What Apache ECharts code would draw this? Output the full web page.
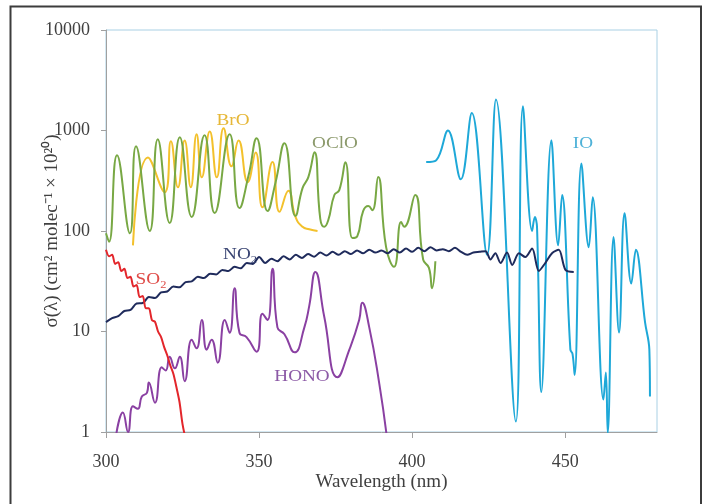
<!DOCTYPE html>
<html>
<head>
<meta charset="utf-8">
<script src="https://cdn.jsdelivr.net/npm/echarts@6/dist/echarts.min.js"></script>
<style>
  html, body { margin: 0; padding: 0; background: #fff; }
  #chart { width: 705px; height: 504px; }
</style>
</head>
<body>
<div id="chart"></div>
<script>
// absorption cross sections
// wavelength in nm, value in cm2 molec-1 x 1e20
const ocloWl = [300.0, 301.0, 303.6, 307.8, 309.8, 314.3, 316.9, 320.8, 324.1, 328.0, 332.2, 335.5, 340.4, 343.6,
  346.6, 349.2, 352.8, 355.4, 358.3, 361.9, 364.2, 366.1, 368.1, 370.0, 371.3, 372.6, 374.6, 376.2, 378.2, 380.5,
  382.1, 384.0, 385.7, 387.0, 388.9, 391.5, 394.1, 396.4, 397.4, 401.0, 403.6, 405.5, 406.5, 407.6];
const ocloVal = [95, 78, 568, 95, 698, 100, 819, 120, 857, 138, 897, 151, 918, 169,
  360, 838, 158, 306, 747, 141, 267, 344, 608, 132, 110, 128, 228, 255, 484, 85,
  89, 158, 177, 161, 344, 69, 44, 123, 110, 228, 52, 43, 27, 50];

const broWl = [308.8, 313.7, 319.2, 321.2, 323.5, 325.7, 327.7, 329.6, 331.3, 333.9, 336.2, 338.4, 341.0, 343.3,
  346.3, 348.9, 351.1, 354.4, 356.7, 359.6, 361.9, 364.2, 366.4, 369.1];
const broVal = [72, 540, 243, 780, 272, 795, 272, 918, 342, 980, 342, 1050, 440, 795,
  306, 605, 172, 485, 155, 252, 138, 110, 104, 100];

const no2Wl = [300, 302, 304, 306, 308, 310, 312, 314, 316, 318, 320, 322, 324, 326, 328, 330, 332, 334, 336, 338,
  340, 342, 344, 346, 348, 350, 352, 354, 356, 358, 360, 362, 364, 366, 368, 370, 372, 374, 376, 378,
  380, 382, 384, 386, 388, 390, 392, 394, 396, 398, 400, 402, 404, 406, 408, 410, 412, 414, 416, 418,
  420, 422, 424, 425.6, 427.2, 428.9, 431.0, 432.7, 434.9, 437.0, 439.2, 441.4, 443.5, 445.7, 447.9,
  450.1, 452.8];
const no2Val = [12.4, 13.6, 14.2, 16.0, 16.4, 19.0, 19.2, 22.0, 21.5, 24.5, 25.0, 28.0, 27.5, 31.0, 31.5, 35.0, 34.0, 37.5, 37.0, 41.0,
  40.0, 44.0, 42.5, 48.0, 47.0, 55.0, 48.0, 53.0, 50.0, 56.0, 52.0, 58.0, 54.0, 59.0, 55.5, 61.0, 57.0, 62.0, 58.0, 63.0,
  59.0, 64.0, 60.0, 65.0, 61.0, 64.0, 60.0, 66.0, 61.0, 67.0, 62.0, 68.0, 63.0, 69.0, 64.0, 66.0, 63.0, 68.0, 62.0, 58.0,
  61.0, 62.0, 63.0, 52, 60, 48, 61, 46, 60, 55, 67, 40, 48, 60, 65,
  41, 39];

const so2Wl = [300, 301, 302, 303, 304, 305, 306, 307, 308, 309, 310, 311, 312, 313, 314, 315, 316, 317, 318, 319,
  320, 321, 322, 323, 324, 325, 326];
const so2Val = [65, 56, 58, 47, 49, 40, 42, 34, 35, 28, 29, 22, 22.5, 17, 17, 13, 12.5, 10, 8.8, 7,
  5.8, 4.6, 3.8, 2.8, 2.0, 1.2, 0.85];

const honoWl = [303.4, 305.5, 307.2, 308.8, 310.4, 311.7, 313.4, 314.0, 316.0, 318.2, 319.5, 320.8, 322.5, 324.1,
  325.7, 328.0, 329.6, 331.3, 332.9, 334.5, 336.5, 338.8, 340.4, 342.0, 343.6, 345.9, 349.2, 351.1, 352.8,
  354.4, 356.0, 358.3, 361.6, 364.8, 366.4, 368.4, 371.3, 375.6, 379.5, 382.7, 383.7, 386.0, 389.3, 391.6];
const honoVal = [0.97, 1.56, 1.0, 1.8, 1.7, 2.25, 2.47, 3.1, 1.96, 4.4, 4.1, 5.6, 4.3, 5.6,
  3.2, 8.3, 6.8, 13, 6.6, 8.3, 4.9, 13, 9.7, 27, 9.7, 8.8, 6.3, 15, 13,
  42, 11, 9.4, 6.2, 11, 18, 39, 14, 3.5, 6.6, 13, 19.3, 11, 3.0, 0.97];

const ioWl = [404.6, 407.9, 411.7, 415.9, 419.5, 424.5, 427.4, 433.9, 436.2, 439.2, 440.1, 440.8, 442.2, 445.5,
  447.7, 449.0, 451.7, 452.4, 453.1, 455.3, 457.7, 459.0, 462.5, 463.3, 463.9, 465.8, 467.6, 469.4, 471.6,
  473.1, 476.1, 477.5, 477.7];
const ioVal = [486, 507, 1000, 327, 1490, 58, 2040, 1.27, 1740, 100, 138, 110, 2.5, 800,
  72, 228, 6.6, 6.0, 3.7, 470, 69, 217, 2.1, 3.9, 0.98, 87, 9.8, 150, 30,
  65, 12.3, 6.6, 2.25];

const xTicks = [300, 350, 400, 450];

function pairs(xs, ys) {
  let out = [];
  for (let i = 0; i < xs.length; i++) out.push([xs[i], ys[i]]);
  return out;
}

function lineSeries(name, xs, ys, color, smooth, z) {
  return {
    name: name,
    type: "line",
    data: pairs(xs, ys),
    showSymbol: false,
    smooth: smooth,
    clip: true,
    z: z,
    lineStyle: { color: color, width: 2 },
    itemStyle: { color: color },
    animation: false
  };
}

const serif = "Liberation Serif";

// the figure's lettering is a bit wide, so stretch the labels a little
function label(text, x, y, color, rich) {
  let t = {
    type: "text",
    x: x,
    y: y,
    scaleX: 1.13,
    z: 100,
    style: {
      text: text,
      fill: color,
      font: "17px " + serif,
      textAlign: "center",
      textVerticalAlign: "middle"
    }
  };
  if (rich) t.style.rich = rich;
  return t;
}

function subRich(color) {
  return {
    a: { fontFamily: serif, fontSize: 17, color: color },
    s: { fontFamily: serif, fontSize: 11, color: color, padding: [10, 0, 0, 0] }
  };
}

let myChart = echarts.init(document.getElementById("chart"), null, { renderer: "canvas" });

let option = {
  animation: false,
  backgroundColor: "#fff",
  grid: {
    left: 106, right: 48, top: 30, bottom: 72,
    show: true, borderColor: "#a9d0e4", borderWidth: 1, backgroundColor: "transparent"
  },
  xAxis: {
    type: "value",
    min: 300, max: 480,
    name: "Wavelength (nm)",
    nameLocation: "middle",
    nameGap: 41,
    nameMoveOverlap: false,
    nameTextStyle: { fontFamily: serif, fontSize: 19, color: "#404040" },
    axisLine: { show: true, lineStyle: { color: "#a0a0a0", width: 1 } },
    axisTick: { show: true, length: 6, customValues: xTicks, lineStyle: { color: "#a0a0a0" } },
    axisLabel: {
      customValues: xTicks,
      margin: 21,
      fontFamily: serif, fontSize: 18, color: "#404040"
    },
    splitLine: { show: false }
  },
  yAxis: {
    type: "log",
    logBase: 10,
    min: 1, max: 10000,
    name: "σ(λ) (cm² molec⁻¹ × 10²⁰)",
    nameLocation: "middle",
    nameGap: 44,
    nameMoveOverlap: false,
    nameTextStyle: { fontFamily: serif, fontSize: 19, color: "#404040" },
    axisLine: { show: true, lineStyle: { color: "#a0a0a0", width: 1 } },
    axisTick: { show: true, length: 5, lineStyle: { color: "#a0a0a0" } },
    axisLabel: {
      margin: 16,
      fontFamily: serif, fontSize: 18, color: "#404040",
      formatter: function (v) { return String(Math.round(v)); }
    },
    splitLine: { show: false }
  },
  series: [
    lineSeries("BrO", broWl, broVal, "#f3c12c", 0.5, 2),
    lineSeries("OClO", ocloWl, ocloVal, "#78a844", 0.5, 3),
    lineSeries("IO", ioWl, ioVal, "#1ea8d8", 0.4, 4),
    lineSeries("NO2", no2Wl, no2Val, "#1f2b5c", 0.3, 5),
    lineSeries("HONO", honoWl, honoVal, "#8a40a2", 0.5, 6),
    lineSeries("SO2", so2Wl, so2Val, "#e3262b", 0.3, 7)
  ],
  graphic: [
    {
      type: "rect",
      z: 0,
      shape: { x: 10.5, y: 6.5, width: 690.5, height: 520 },
      style: { fill: "none", stroke: "#3c3c3c", lineWidth: 2 }
    },
    label("BrO", 233, 121, "#e6b737"),
    label("OClO", 335, 144, "#8c9a6c"),
    label("IO", 583, 144, "#4fb2d8"),
    label("HONO", 302, 377, "#8c5aa6"),
    label("{a|NO}{s|2}", 240, 255, "#3b4674", subRich("#3b4674")),
    label("{a|SO}{s|2}", 151, 280, "#df4b47", subRich("#df4b47"))
  ]
};

if (option && typeof option === "object") myChart.setOption(option);
</script>
</body>
</html>
